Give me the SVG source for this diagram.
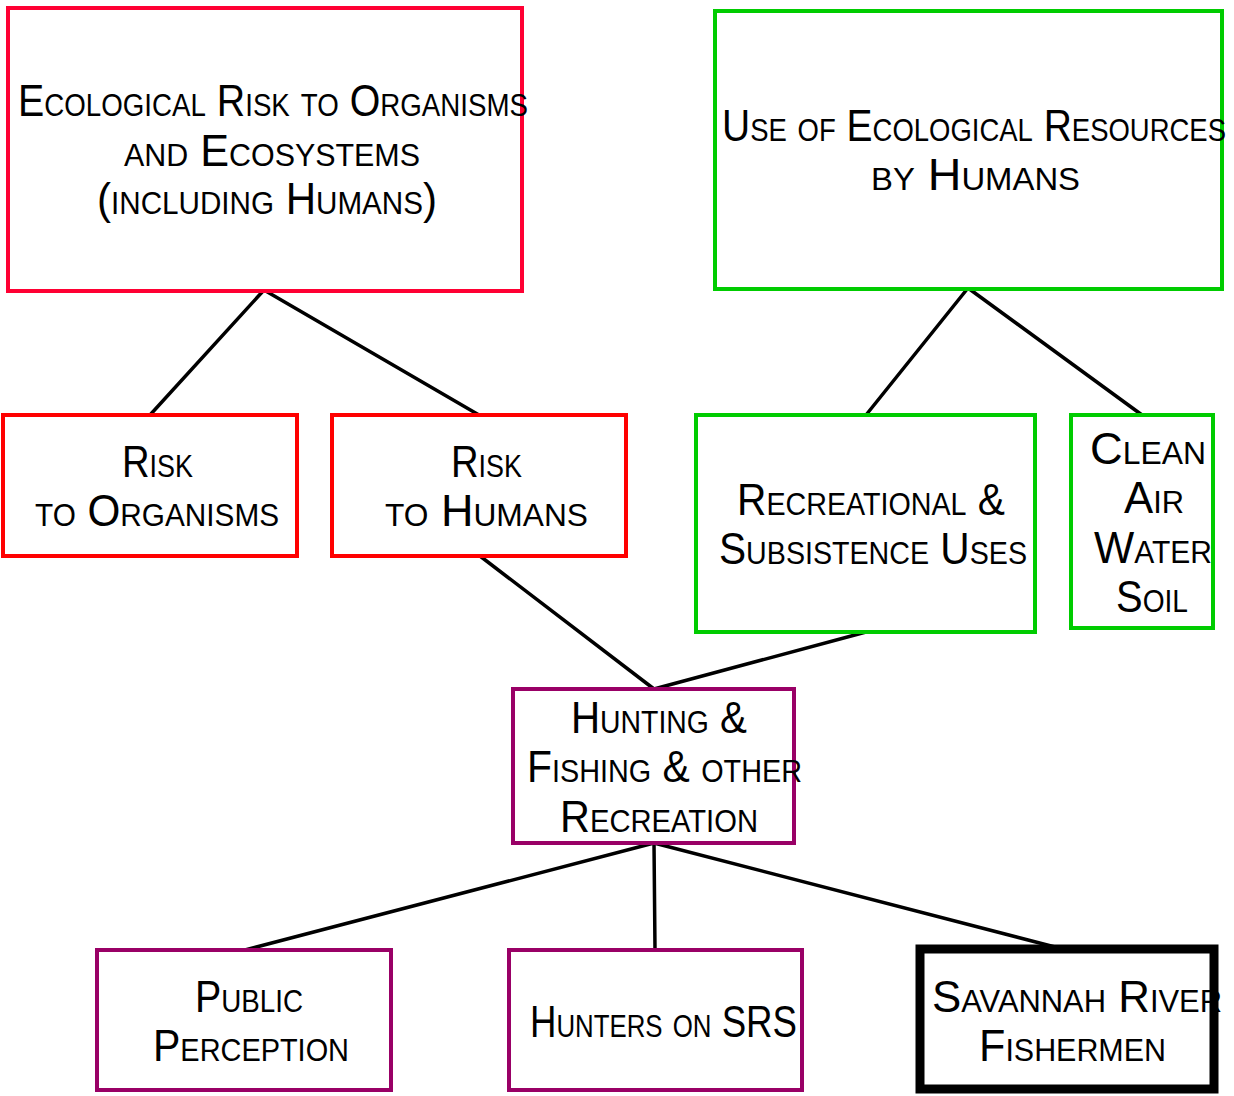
<svg xmlns="http://www.w3.org/2000/svg" width="1234" height="1096" viewBox="0 0 1234 1096">
  <style>
    .box { fill: #ffffff; stroke-width: 4; }
    .red1 { stroke: #ff0033; }
    .red2 { stroke: #ff0000; }
    .green { stroke: #00cc00; }
    .purple { stroke: #990066; }
    .black { stroke: #000000; stroke-width: 9; }
    .lbl { font-family: "Liberation Sans", Arial, sans-serif; font-size: 44px; font-variant: small-caps; fill: #000000; }
    .conn line { stroke: #000000; stroke-width: 3.5; stroke-linecap: round; }
  </style>
  <rect width="1234" height="1096" fill="#ffffff"/>

  <!-- tree links between the boxes -->
  <g class="conn" id="connectors">
    <line x1="264" y1="290" x2="150" y2="415"/>
    <line x1="264" y1="290" x2="479" y2="415"/>
    <line x1="968" y1="288" x2="866" y2="415"/>
    <line x1="968" y1="288" x2="1142" y2="415"/>
    <line x1="480" y1="556" x2="654" y2="689"/>
    <line x1="866" y1="632" x2="654" y2="689"/>
    <line x1="654" y1="843" x2="245" y2="950"/>
    <line x1="654" y1="843" x2="655" y2="950"/>
    <line x1="654" y1="843" x2="1055" y2="947"/>
  </g>

  <g id="ecological-risk">
    <rect class="box red1" x="8" y="8" width="514" height="283"/>
    <text class="lbl" x="18" y="116" textLength="510" lengthAdjust="spacingAndGlyphs">Ecological Risk to Organisms</text>
    <text class="lbl" x="124" y="166" textLength="296" lengthAdjust="spacingAndGlyphs">and Ecosystems</text>
    <text class="lbl" x="97" y="214" textLength="340" lengthAdjust="spacingAndGlyphs">(including Humans)</text>
  </g>

  <g id="use-of-resources">
    <rect class="box green" x="715" y="11" width="507" height="278"/>
    <text class="lbl" x="722" y="141" textLength="504" lengthAdjust="spacingAndGlyphs">Use of Ecological Resources</text>
    <text class="lbl" x="871" y="190" textLength="209" lengthAdjust="spacingAndGlyphs">by Humans</text>
  </g>

  <g id="risk-organisms">
    <rect class="box red2" x="3" y="415" width="294" height="141"/>
    <text class="lbl" x="122" y="477" textLength="71" lengthAdjust="spacingAndGlyphs">Risk</text>
    <text class="lbl" x="35" y="526" textLength="244" lengthAdjust="spacingAndGlyphs">to Organisms</text>
  </g>

  <g id="risk-humans">
    <rect class="box red2" x="332" y="415" width="294" height="141"/>
    <text class="lbl" x="451" y="477" textLength="71" lengthAdjust="spacingAndGlyphs">Risk</text>
    <text class="lbl" x="385" y="526" textLength="203" lengthAdjust="spacingAndGlyphs">to Humans</text>
  </g>

  <g id="recreational-uses">
    <rect class="box green" x="696" y="415" width="339" height="217"/>
    <text class="lbl" x="737" y="515" textLength="268" lengthAdjust="spacingAndGlyphs">Recreational &amp;</text>
    <text class="lbl" x="719" y="564" textLength="308" lengthAdjust="spacingAndGlyphs">Subsistence Uses</text>
  </g>

  <g id="clean-air-water-soil">
    <rect class="box green" x="1071" y="415" width="142" height="213"/>
    <text class="lbl" x="1090" y="464" textLength="116" lengthAdjust="spacingAndGlyphs">Clean</text>
    <text class="lbl" x="1124" y="513" textLength="60" lengthAdjust="spacingAndGlyphs">Air</text>
    <text class="lbl" x="1094" y="563" textLength="118" lengthAdjust="spacingAndGlyphs">Water</text>
    <text class="lbl" x="1116" y="612" textLength="72" lengthAdjust="spacingAndGlyphs">Soil</text>
  </g>

  <g id="hunting-fishing">
    <rect class="box purple" x="513" y="689" width="281" height="154"/>
    <text class="lbl" x="571" y="733" textLength="176" lengthAdjust="spacingAndGlyphs">Hunting &amp;</text>
    <text class="lbl" x="527" y="782" textLength="275" lengthAdjust="spacingAndGlyphs">Fishing &amp; other</text>
    <text class="lbl" x="560" y="832" textLength="198" lengthAdjust="spacingAndGlyphs">Recreation</text>
  </g>

  <g id="public-perception">
    <rect class="box purple" x="97" y="950" width="294" height="140"/>
    <text class="lbl" x="195" y="1012" textLength="108" lengthAdjust="spacingAndGlyphs">Public</text>
    <text class="lbl" x="153" y="1061" textLength="196" lengthAdjust="spacingAndGlyphs">Perception</text>
  </g>

  <g id="hunters-srs">
    <rect class="box purple" x="509" y="950" width="293" height="140"/>
    <text class="lbl" x="530" y="1037" textLength="267" lengthAdjust="spacingAndGlyphs">Hunters on SRS</text>
  </g>

  <g id="savannah-fishermen">
    <rect class="box black" x="920" y="949" width="294" height="140"/>
    <text class="lbl" x="932" y="1012" textLength="290" lengthAdjust="spacingAndGlyphs">Savannah River</text>
    <text class="lbl" x="979" y="1061" textLength="187" lengthAdjust="spacingAndGlyphs">Fishermen</text>
  </g>
</svg>
